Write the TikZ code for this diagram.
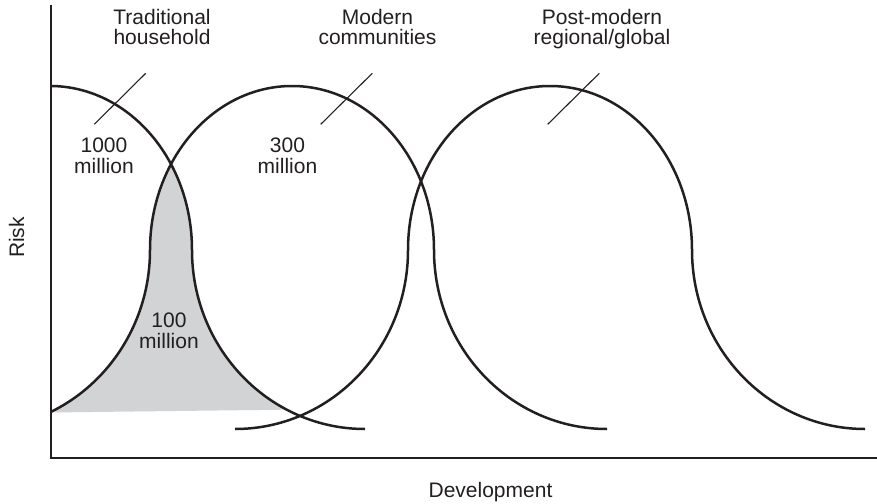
\documentclass[tikz,border=0pt]{standalone}
\usepackage{fontspec}
\setmainfont{Liberation Sans}
\definecolor{shadegray}{RGB}{209,211,212}
\definecolor{inkgray}{RGB}{35,31,32}
\newcommand\bellfull{(-315,429) .. controls (-219.5,429) and (-142,348.9) .. (-142,250) .. controls (-142,159.4) and (-78.4,86) .. (0,86) .. controls (78.4,86) and (142,159.4) .. (142,250) .. controls (142,348.9) and (219.5,429) .. (315,429)}
\newcommand\bellright{(0,86) .. controls (78.4,86) and (142,159.4) .. (142,250) .. controls (142,348.9) and (219.5,429) .. (315,429)}
\tikzset{
  curve/.style={line width=2.5pt, draw=inkgray},
  axisline/.style={line width=1.5pt, draw=inkgray},
  leader/.style={line width=1.1pt, draw=inkgray},
  lbl/.style={font=\fontsize{21}{20.5}\selectfont, text=inkgray, align=center, inner sep=0pt},
}
\begin{document}
\begin{tikzpicture}[x=1pt,y=-1pt]
\useasboundingbox (0,0) rectangle (877,503);
% shaded region
\begin{scope}
  \clip[xshift=50pt] \bellright -- (0,429) -- cycle;
  \clip[xshift=292pt] \bellfull -- cycle;
  \fill[shadegray] (51,412.5) -- (300,409.5) -- (300,0) -- (51,0) -- cycle;
\end{scope}
% curves
\begin{scope}
  \clip (51,0) rectangle (877,503);
  \draw[curve, xshift=50pt] \bellright;
  \draw[curve, xshift=292pt] \bellfull;
  \draw[curve, xshift=550pt] \bellfull;
\end{scope}
% axes
\coordinate (ytop) at (51,5);
\coordinate (origin) at (51,458);
\coordinate (xend) at (877,458);
\draw[axisline] (ytop) -- (origin) -- (xend);
% leader lines
\coordinate (t1) at (145.7,73.3); \coordinate (t2) at (94.3,124.3);
\coordinate (m1) at (372.3,73.3); \coordinate (m2) at (320.7,124.3);
\coordinate (p1) at (599.3,73.3); \coordinate (p2) at (547.7,124.3);
\draw[leader] (t1) -- (t2);
\draw[leader] (m1) -- (m2);
\draw[leader] (p1) -- (p2);
% labels
\node[lbl, anchor=base] (trad) at (162,45) {Traditional\\household};
\node[lbl, anchor=base] (mod) at (377.5,45) {Modern\\communities};
\node[lbl, anchor=base] (post) at (602,45) {Post-modern\\regional/global};
\node[lbl, anchor=base] (n1000) at (104,173) {1000\\million};
\node[lbl, anchor=base] (n300) at (287.5,173) {300\\million};
\node[lbl, anchor=base] (n100) at (169,348) {100\\million};
\node[lbl, anchor=base, rotate=90] (risk) at (24,237.5) {Risk};
\node[lbl, anchor=base] (dev) at (490.5,497) {Development};
\end{tikzpicture}
\end{document}
